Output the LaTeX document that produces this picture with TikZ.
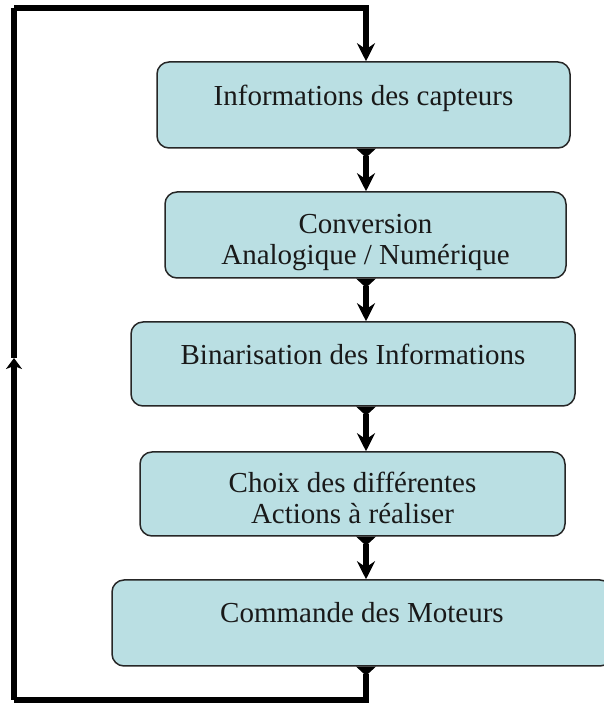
\documentclass[tikz,border=0pt]{standalone}
\usepackage{fontspec}
\setmainfont{Liberation Serif}
\usetikzlibrary{arrows.meta}
\definecolor{bleuBloc}{RGB}{186,223,227}
\tikzset{
BLOC/.style={draw=black!85, fill=bleuBloc, line width=1.5pt, rounded corners=12pt, align=center, font=\fontsize{29}{31}\selectfont, text=black!90, inner sep=0pt},
TETE/.style={-{Stealth[length=18pt,width=18pt,inset=6pt]}},
QUEUE/.style={{Triangle[reversed,length=9pt,width=19pt]}-},
FLECHE/.style={draw=black, line width=6pt, line join=miter, {Triangle[reversed,length=9pt,width=19pt]}-{Stealth[length=18pt,width=18pt,inset=6pt]}},
RETOUR/.style={draw=black, line width=5.5pt, line join=miter},
}
\begin{document}
\begin{tikzpicture}
[x=1pt, y=1pt]
	\useasboundingbox (0,0) rectangle (604,704);
	\node[BLOC, minimum width=413pt, minimum height=86pt] (capteurs) at (363.5,599) {Informations des capteurs\\[-20pt]\strut};
	\node[BLOC, minimum width=401pt, minimum height=86pt] (conversion) at (365.5,469) {\strut\\[-19pt]Conversion\\Analogique / Numérique};
	\node[BLOC, minimum width=444pt, minimum height=84pt] (binarisation) at (353,340) {Binarisation des Informations\\[-20pt]\strut};
	\node[BLOC, minimum width=425pt, minimum height=84pt] (choix) at (352.5,210) {\strut\\[-25pt]Choix des différentes\\Actions à réaliser};
	\node[BLOC, minimum width=500pt, minimum height=86pt] (moteurs) at (362,81) {Commande des Moteurs\\[-20pt]\strut};
	\coordinate (col) at (366,0);
	\coordinate (basgauche) at (14,4);
	\coordinate (milieu) at (14,346);
	\coordinate (hautgauche) at (14,696);
	\path[FLECHE] (capteurs.south -| col) -- (conversion.north -| col);
	\path[FLECHE] (conversion.south -| col) -- (binarisation.north -| col);
	\path[FLECHE] (binarisation.south -| col) -- (choix.north -| col);
	\path[FLECHE] (choix.south -| col) -- (moteurs.north -| col);
	\path[RETOUR, QUEUE] (moteurs.south -| col) |- (basgauche);
	\path[RETOUR, -{Stealth[length=11pt,width=16pt,inset=3pt]}] (basgauche) -- (milieu);
	\path[RETOUR] (milieu) -- (hautgauche);
	\path[RETOUR, TETE] (hautgauche) -| (capteurs.north -| col);
\end{tikzpicture}
\end{document}
